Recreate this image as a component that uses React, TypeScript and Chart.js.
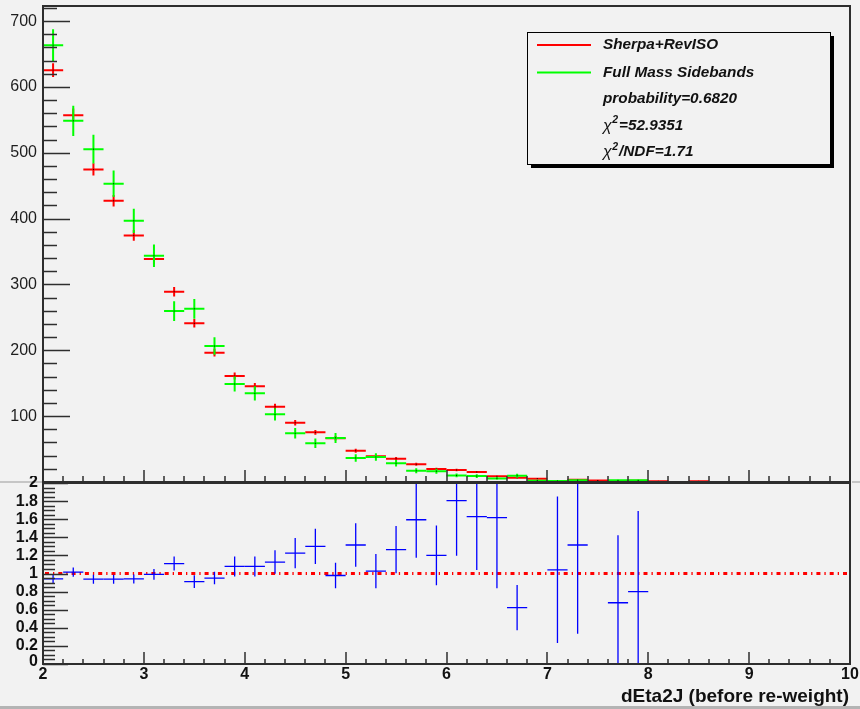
import React, { useEffect, useRef } from "react";
import { Chart, registerables } from "chart.js";

Chart.register(...registerables);

// ---------------- DATA ----------------
const binCenters = [
  2.1, 2.3, 2.5, 2.7, 2.9, 3.1, 3.3, 3.5, 3.7, 3.9, 4.1, 4.3, 4.5, 4.7, 4.9, 5.1, 5.3,
  5.5, 5.7, 5.9, 6.1, 6.3, 6.5, 6.7, 6.9, 7.1, 7.3, 7.5, 7.7, 7.9, 8.1, 8.3, 8.5,
];
const BIN_HALF_WIDTH = 0.1;

const sherpaRevIso: (number | null)[] = [
  625.6, 557.2, 474.8, 427.1, 374.6, 338.6, 289, 241, 196.4, 161, 145.3, 114.3, 90, 75.4, 66.4, 47.5, 39,
  35.4, 26.9, 19.7, 18.2, 15.2, 8.7, 6.3, 5, 1.5, 3.5, 2.3, 1.7, 2, 1, null, 1,
];
const sherpaRevIsoErr = [
  10.5, 10, 9.2, 8.7, 8.1, 7.7, 7.1, 6.5, 5.9, 5.3, 5.1, 4.5, 4, 3.6, 3.4, 2.9, 2.6,
  2.5, 2.2, 1.9, 1.8, 1.6, 1.2, 1.1, 0.9, 0.5, 0.8, 0.6, 0.5, 0.6, 0.4, 0, 0.4,
];
const fullMassSidebands: (number | null)[] = [
  663.5, 548.6, 505.6, 453, 396.7, 343.6, 259.6, 263.1, 206.5, 148.8, 134.7, 102.8, 74, 58.8, 67, 36.5, 38,
  28.5, 17, 16.5, 10, 9, 5.5, 9.5, 2, 1.5, 2.7, null, 2.5, 2.5, null, null, null,
];
const fullMassSidebandsErr = [
  24, 23, 22, 20, 18.5, 17, 15, 15, 13.4, 11.3, 10.8, 9.4, 8, 7.1, 7.6, 5.6, 5.7,
  5, 3.8, 3.8, 2.9, 2.8, 2.2, 2.9, 1.3, 1.1, 1.5, 0, 1.5, 1.5, 0, 0, 0,
];
const ratio: (number | null)[] = [
  0.94, 1.015, 0.937, 0.937, 0.94, 0.99, 1.11, 0.91, 0.95, 1.078, 1.078, 1.126, 1.226, 1.3, 0.978, 1.315, 1.026,
  1.264, 1.594, 1.2, 1.806, 1.628, 1.617, 0.624, null, 1.041, 1.315, null, 0.677, 0.8, null, null, null,
];
const ratioErr: (number | null)[] = [
  0.046, 0.05, 0.05, 0.05, 0.05, 0.06, 0.078, 0.07, 0.07, 0.11, 0.11, 0.13, 0.167, 0.195, 0.14, 0.24, 0.19,
  0.26, 0.42, 0.33, 0.61, 0.59, 0.78, 0.25, null, 0.81, 0.98, null, 0.745, 0.89, null, null, null,
];
const ratioReference = 1;

const xRange = [2, 10];
const upperYRange = [0, 723];
const lowerYRange = [0, 2];
const xTickLabels = [2, 3, 4, 5, 6, 7, 8, 9, 10];
const upperYTickLabels = [100, 200, 300, 400, 500, 600, 700];
const lowerYTickLabels = ["0", "0.2", "0.4", "0.6", "0.8", "1", "1.2", "1.4", "1.6", "1.8", "2"];
const xTitle = "dEta2J (before re-weight)";

const seriesNames = ["Sherpa+RevISO", "Full Mass Sidebands"];
const probabilityText = "probability=0.6820";
const chi2Text = "=52.9351";
const chi2NdfText = "/NDF=1.71";

// ---------------- STYLE ----------------
const FONT = "'Liberation Sans', Arial, Helvetica, sans-serif";
const BG = "#f2f2f2";
const FRAME = "#2e2e2e";
const RED = "#ff0000";
const GREEN = "#00ff00";
const BLUE = "#0000ff";

type Pt = { x: number; y: number; e: number };

function toPoints(xs: number[], ys: (number | null)[], es: (number | null)[]): Pt[] {
  const out: Pt[] = [];
  xs.forEach((x, i) => {
    const y = ys[i];
    if (y !== null && y !== undefined) out.push({ x, y, e: (es[i] as number) ?? 0 });
  });
  return out;
}

function drawCrosses(chart: any, dsIndex: number, color: string, width: number, dot: boolean) {
  const ds = chart.data.datasets[dsIndex];
  const xs = chart.scales.x;
  const ys = chart.scales.y;
  const ctx: CanvasRenderingContext2D = chart.ctx;
  const a = chart.chartArea;
  ctx.save();
  ctx.beginPath();
  ctx.rect(a.left, a.top, a.right - a.left, a.bottom - a.top);
  ctx.clip();
  ctx.strokeStyle = color;
  ctx.lineWidth = width;
  for (const p of ds.data as Pt[]) {
    const px = xs.getPixelForValue(p.x);
    const py = ys.getPixelForValue(p.y);
    const x0 = xs.getPixelForValue(p.x - BIN_HALF_WIDTH);
    const x1 = xs.getPixelForValue(p.x + BIN_HALF_WIDTH);
    const yt = ys.getPixelForValue(p.y + p.e);
    const yb = ys.getPixelForValue(p.y - p.e);
    ctx.beginPath();
    ctx.moveTo(x0, py);
    ctx.lineTo(x1, py);
    ctx.moveTo(px, yt);
    ctx.lineTo(px, yb);
    ctx.stroke();
    if (dot) {
      ctx.fillStyle = "#000";
      ctx.fillRect(px - 0.5, py - 0.5, 1, 1);
    }
  }
  ctx.restore();
}

function drawXTicks(chart: any, majorLen: number, minorLen: number) {
  const ctx: CanvasRenderingContext2D = chart.ctx;
  const a = chart.chartArea;
  const xs = chart.scales.x;
  ctx.save();
  ctx.strokeStyle = FRAME;
  ctx.lineWidth = 1.5;
  const n = Math.round((xRange[1] - xRange[0]) / 0.2);
  for (let i = 0; i <= n; i++) {
    const v = xRange[0] + i * 0.2;
    const px = Math.round(xs.getPixelForValue(v));
    const len = i % 5 === 0 ? majorLen : minorLen;
    ctx.beginPath();
    ctx.moveTo(px, a.bottom);
    ctx.lineTo(px, a.bottom - len);
    ctx.stroke();
  }
  ctx.restore();
}

const upperPlugin = {
  id: "upperPanel",
  afterDraw(chart: any) {
    const ctx: CanvasRenderingContext2D = chart.ctx;
    const a = chart.chartArea;
    const ys = chart.scales.y;
    drawCrosses(chart, 0, RED, 2, true);
    drawCrosses(chart, 1, GREEN, 2, true);

    ctx.save();
    // pad separators
    ctx.fillStyle = "#c6c6c6";
    ctx.fillRect(0, 481, a.left - 1, 2);
    ctx.fillRect(a.right + 2, 481, 20, 2);
    // frame
    ctx.strokeStyle = FRAME;
    ctx.lineWidth = 2;
    ctx.strokeRect(a.left, a.top, a.right - a.left, a.bottom - a.top);
    // y ticks
    ctx.lineWidth = 1.5;
    for (let i = 0; i * 20 <= upperYRange[1]; i++) {
      const v = i * 20;
      const py = Math.round(ys.getPixelForValue(v)) + 0.5;
      const len = i % 5 === 0 ? 27 : 14;
      ctx.beginPath();
      ctx.moveTo(a.left, py);
      ctx.lineTo(a.left + len, py);
      ctx.stroke();
    }
    ctx.fillStyle = "#1e1e1e";
    ctx.font = `16px ${FONT}`;
    ctx.textAlign = "right";
    ctx.textBaseline = "middle";
    for (const v of upperYTickLabels) {
      ctx.fillText(String(v), a.left - 6, ys.getPixelForValue(v));
    }
    ctx.restore();
    drawXTicks(chart, 12, 6);

    // legend
    ctx.save();
    const bx = 527, by = 32, bw = 303, bh = 132;
    ctx.fillStyle = "#000";
    ctx.fillRect(bx + 4, by + 4, bw, bh);
    ctx.fillStyle = BG;
    ctx.fillRect(bx, by, bw, bh);
    ctx.strokeStyle = "#000";
    ctx.lineWidth = 1;
    ctx.strokeRect(bx + 0.5, by + 0.5, bw, bh);
    const rows = [45, 72.5, 99, 125.5, 152];
    const colors = [RED, GREEN];
    ctx.lineWidth = 2;
    colors.forEach((c, i) => {
      ctx.strokeStyle = c;
      ctx.beginPath();
      ctx.moveTo(537, rows[i]);
      ctx.lineTo(591, rows[i]);
      ctx.stroke();
    });
    ctx.fillStyle = "#111";
    ctx.textAlign = "left";
    ctx.textBaseline = "middle";
    const tf = `italic bold 15.3px ${FONT}`;
    ctx.font = tf;
    const tx = 603;
    ctx.fillText(seriesNames[0], tx, rows[0]);
    ctx.fillText(seriesNames[1], tx, rows[1]);
    ctx.fillText(probabilityText, tx, rows[2]);
    const chiRow = (row: number, rest: string) => {
      ctx.font = `italic 16px ${FONT}`;
      ctx.fillText("χ", tx, row + 1);
      const w1 = ctx.measureText("χ").width;
      ctx.font = `italic bold 10.5px ${FONT}`;
      ctx.fillText("2", tx + w1 + 0.5, row - 5);
      const w2 = ctx.measureText("2").width;
      ctx.font = tf;
      ctx.fillText(rest, tx + w1 + w2 + 1.5, row);
    };
    chiRow(rows[3], chi2Text);
    chiRow(rows[4], chi2NdfText);
    ctx.restore();
  },
};

const lowerPlugin = {
  id: "lowerPanel",
  afterDraw(chart: any) {
    const ctx: CanvasRenderingContext2D = chart.ctx;
    const a = chart.chartArea;
    const ys = chart.scales.y;
    const xs = chart.scales.x;
    // reference line
    ctx.save();
    ctx.strokeStyle = RED;
    ctx.lineWidth = 3;
    ctx.setLineDash([4, 4, 1.3, 4]);
    const ry = ys.getPixelForValue(ratioReference);
    ctx.beginPath();
    ctx.moveTo(a.left + 2, ry);
    ctx.lineTo(a.right, ry);
    ctx.stroke();
    ctx.restore();

    drawCrosses(chart, 0, BLUE, 1.3, false);

    ctx.save();
    ctx.strokeStyle = FRAME;
    ctx.lineWidth = 2;
    ctx.strokeRect(a.left, a.top, a.right - a.left, a.bottom - a.top);
    ctx.lineWidth = 1.5;
    const n = Math.round((lowerYRange[1] - lowerYRange[0]) / 0.05);
    for (let i = 0; i <= n; i++) {
      const v = lowerYRange[0] + i * 0.05;
      const py = Math.round(ys.getPixelForValue(v)) + 0.5;
      const len = i % 4 === 0 ? 25 : 12;
      ctx.beginPath();
      ctx.moveTo(a.left, py);
      ctx.lineTo(a.left + len, py);
      ctx.stroke();
    }
    ctx.fillStyle = "#111";
    ctx.font = `bold 16px ${FONT}`;
    ctx.textAlign = "right";
    ctx.textBaseline = "middle";
    lowerYTickLabels.forEach((lab) => {
      const v = parseFloat(lab);
      let py = ys.getPixelForValue(v);
      if (v === 0) py -= 2.5;
      ctx.fillText(lab, a.left - 5, py);
    });
    ctx.restore();
    drawXTicks(chart, 12, 5);

    ctx.save();
    ctx.fillStyle = "#111";
    ctx.font = `bold 16px ${FONT}`;
    ctx.textAlign = "center";
    ctx.textBaseline = "alphabetic";
    for (const v of xTickLabels) {
      ctx.fillText(String(v), xs.getPixelForValue(v), a.bottom + 14.5);
    }
    ctx.font = `bold 19px ${FONT}`;
    ctx.textAlign = "right";
    ctx.fillText(xTitle, a.right - 1, a.bottom + 37.5);
    // bottom border
    ctx.fillStyle = "#b4b4b4";
    ctx.fillRect(0, a.bottom + 42, 860, 3);
    ctx.restore();
  },
};

function baseOptions(padding: any, yRange: number[]) {
  return {
    animation: false as const,
    responsive: false,
    devicePixelRatio: 1,
    events: [] as any[],
    layout: { padding },
    plugins: { legend: { display: false }, tooltip: { enabled: false } },
    scales: {
      x: { type: "linear" as const, min: xRange[0], max: xRange[1], display: false },
      y: { type: "linear" as const, min: yRange[0], max: yRange[1], display: false },
    },
  };
}

export default function App() {
  const upperRef = useRef<HTMLCanvasElement>(null);
  const lowerRef = useRef<HTMLCanvasElement>(null);

  useEffect(() => {
    const upper = new Chart(upperRef.current as HTMLCanvasElement, {
      type: "scatter",
      data: {
        datasets: [
          {
            label: seriesNames[0],
            data: toPoints(binCenters, sherpaRevIso, sherpaRevIsoErr) as any,
            pointRadius: 0,
            showLine: false,
            borderColor: RED,
          },
          {
            label: seriesNames[1],
            data: toPoints(binCenters, fullMassSidebands, fullMassSidebandsErr) as any,
            pointRadius: 0,
            showLine: false,
            borderColor: GREEN,
          },
        ],
      },
      options: baseOptions({ left: 43, right: 10, top: 6, bottom: 8 }, upperYRange) as any,
      plugins: [upperPlugin],
    });
    const lower = new Chart(lowerRef.current as HTMLCanvasElement, {
      type: "scatter",
      data: {
        datasets: [
          {
            label: "ratio",
            data: toPoints(binCenters, ratio, ratioErr) as any,
            pointRadius: 0,
            showLine: false,
            borderColor: BLUE,
          },
        ],
      },
      options: baseOptions({ left: 43, right: 10, top: 7, bottom: 45 }, lowerYRange) as any,
      plugins: [lowerPlugin],
    });
    return () => {
      upper.destroy();
      lower.destroy();
    };
  }, []);

  return (
    <div
      style={{
        position: "absolute",
        left: 0,
        top: 0,
        width: 860,
        height: 709,
        background: BG,
        overflow: "hidden",
      }}
    >
      <canvas
        ref={upperRef}
        width={860}
        height={490}
        style={{ position: "absolute", left: 0, top: 0, width: 860, height: 490 }}
      />
      <canvas
        ref={lowerRef}
        width={860}
        height={233}
        style={{ position: "absolute", left: 0, top: 476, width: 860, height: 233 }}
      />
    </div>
  );
}
